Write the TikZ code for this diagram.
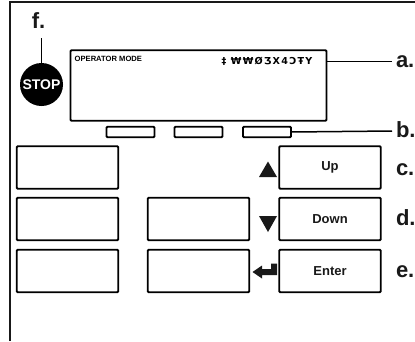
\documentclass[tikz,border=0pt]{standalone}
\usepackage{fontspec}
\setmainfont{Liberation Sans}
\newfontfamily\glyphfont[LetterSpace=13]{DejaVu Sans}
\tikzset{
  keybox/.style={draw=black,line width=1.8pt,rounded corners=1pt,inner sep=0pt,outer sep=0pt,fill=white},
  panelkey/.style={keybox,minimum width=101.5pt,minimum height=42.5pt,font=\bfseries\fontsize{13}{13}\selectfont,text=black!90},
  softkey/.style={keybox,minimum width=48pt,minimum height=10.5pt},
  calloutlabel/.style={font=\bfseries\fontsize{22}{22}\selectfont,text height=12pt,text depth=0pt,inner ysep=0pt,inner xsep=4pt,outer sep=0pt,anchor=west,text=black!90},
  leader/.style={draw=black,line width=1.5pt},
  symbolshape/.style={fill=black!90,draw=none}
}
\begin{document}
\begin{tikzpicture}[x=1pt,y=-1pt]
\useasboundingbox[fill=white] (0,0) rectangle (415,341);
% outer frame
\draw[line width=2pt,black!90] (9.5,341) -- (9.5,2.2) -- (415,2.2);
% display
\node[keybox,minimum width=256pt,minimum height=70.5pt] (display) at (198.5,85.5) {};
\node[anchor=base west,inner sep=0pt,font=\bfseries\fontsize{7.6}{7.6}\selectfont] (mode) at (74.5,61.5) {OPERATOR MODE};
\node[anchor=base east,inner sep=0pt,font=\glyphfont\bfseries\fontsize{9.6}{9.6}\selectfont] (glyphs) at (312.5,64) {‡ ₩₩ØƷX4ƆŦY};
% soft keys
\node[softkey] (s1) at (130.5,132) {};
\node[softkey] (s2) at (198.5,132) {};
\node[softkey] (s3) at (267,132) {};
% keys
\node[panelkey] (k1) at (67.5,167.5) {};
\node[panelkey] (k2) at (67.5,219) {};
\node[panelkey] (k3) at (67.5,271) {};
\node[panelkey] (k4) at (198.5,219) {};
\node[panelkey] (k5) at (198.5,271) {};
\node[panelkey] (up) at (330,167.5) {Up};
\node[panelkey] (down) at (330,219) {Down};
\node[panelkey] (enter) at (330,271) {Enter};
% symbols
\fill[symbolshape] (259,177) -- (268,161.5) -- (277,177) -- cycle;
\fill[symbolshape] (259,216) -- (268,232) -- (277,216) -- cycle;
\fill[symbolshape] (252.5,272) -- (262,265.5) -- (262,269) -- (271,269) -- (271,263.5) -- (277,263.5) -- (277,275) -- (262,275) -- (262,278.5) -- cycle;
% stop
\node[circle,fill=black,minimum size=43pt,inner sep=0pt,outer sep=0pt,text=white,font=\bfseries\fontsize{14}{14}\selectfont] (stop) at (41.5,84.5) {STOP};
\coordinate (ftop) at (stop.north |- 0,38);
\draw[leader] (stop.north) -- (ftop);
% labels
\node[calloutlabel] (la) at (392,61.5) {a.};
\node[calloutlabel] (lb) at (392,131) {b.};
\node[calloutlabel] (lc) at (392,169) {c.};
\node[calloutlabel] (ld) at (392,219) {d.};
\node[calloutlabel] (le) at (392,271) {e.};
\node[calloutlabel,anchor=center,inner xsep=0pt] (lf) at (38.5,22) {f.};
\draw[leader] (display.east |- la.west) -- (la.west);
\draw[leader] (s3.east) -- (lb.west);
\end{tikzpicture}
\end{document}
